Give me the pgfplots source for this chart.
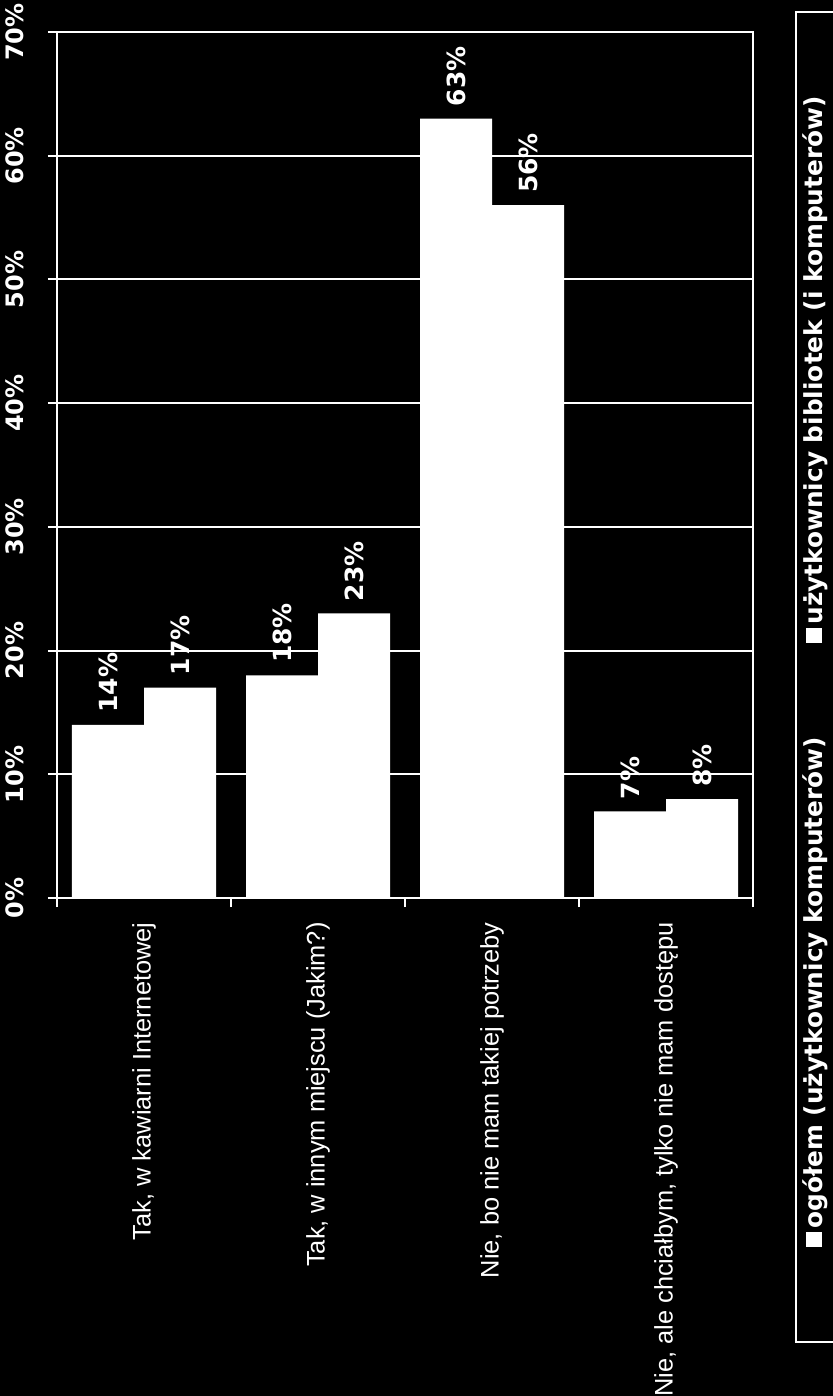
\documentclass[border=0pt]{standalone}
\usepackage{fontspec}
\setmainfont{DejaVu Sans}
\newfontfamily\catfont{Liberation Sans}
\usepackage{pgfplots}
\pgfplotsset{compat=1.18}

\begin{document}
\begin{tikzpicture}
\fill[black] (-28.5pt,-249pt) rectangle (388pt,449pt);
\begin{axis}[
  at={(0,0)}, anchor=south west,
  scale only axis, width=348pt, height=433pt,
  xmin=-0.5, xmax=3.5, ymin=0, ymax=70,
  ybar=0pt, bar width=36pt,
  /pgf/number format/assume math mode=true,
  axis line style={white, line width=1.3pt},
  tick align=outside, major tick length=4.5pt,
  xtick pos=bottom, ytick pos=left,
  every tick/.style={white, line width=1pt},
  xtick={-0.5,0.5,1.5,2.5,3.5}, xticklabels={},
  extra x ticks={0,1,2,3},
  extra x tick labels={{Tak, w kawiarni Internetowej}, {Tak, w innym miejscu (Jakim?)}, {Nie, bo nie mam takiej potrzeby}, {Nie, ale chciałbym, tylko nie mam dostępu}},
  extra x tick style={major tick length=0pt},
  xticklabel style={rotate=90, anchor=east, inner sep=0pt, text=white,
    font=\catfont\fontsize{12.7pt}{15pt}\selectfont},
  xticklabel shift=12pt,
  ytick={0,10,...,70},
  yticklabel={\pgfmathprintnumber{\tick}\%},
  yticklabel style={rotate=90, anchor=south, inner sep=0pt, text=white,
    font=\bfseries\fontsize{12pt}{14pt}\selectfont},
  yticklabel shift=12pt,
  ymajorgrids, major grid style={white, line width=1pt},
  nodes near coords={\pgfmathprintnumber{\pgfplotspointmeta}\%},
  every node near coord/.append style={rotate=90, anchor=west, inner ysep=0pt,
    inner xsep=6pt, text=white, font=\bfseries\fontsize{12.5pt}{15pt}\selectfont},
]
% ogolem (uzytkownicy komputerow)
\addplot[fill=white, draw=none]
  coordinates {(0,14) (1,18) (2,63) (3,7)};
% uzytkownicy bibliotek (i komputerow)
\addplot[fill=white, draw=none]
  coordinates {(0,17) (1,23) (2,56) (3,8)};
\end{axis}
% legend, turned like the rest of the chart
\draw[white, line width=1pt] (369.5pt,-222pt) rectangle (392pt,443pt);
\node[rotate=90, anchor=base west, inner sep=0pt, text=white,
  font=\bfseries\fontsize{12.4pt}{15pt}\selectfont] at (382.5pt,-174.5pt)
  {\rule{7.5pt}{8pt}\hspace{1.5pt}ogółem (użytkownicy komputerów)};
\node[rotate=90, anchor=base west, inner sep=0pt, text=white,
  font=\bfseries\fontsize{12.4pt}{15pt}\selectfont] at (382.5pt,127.5pt)
  {\rule{7.5pt}{8pt}\hspace{1.5pt}użytkownicy bibliotek (i komputerów)};
\pgfresetboundingbox
\path[use as bounding box] (-28.5pt,-249pt) rectangle (388pt,449pt);
\end{tikzpicture}
\end{document}
